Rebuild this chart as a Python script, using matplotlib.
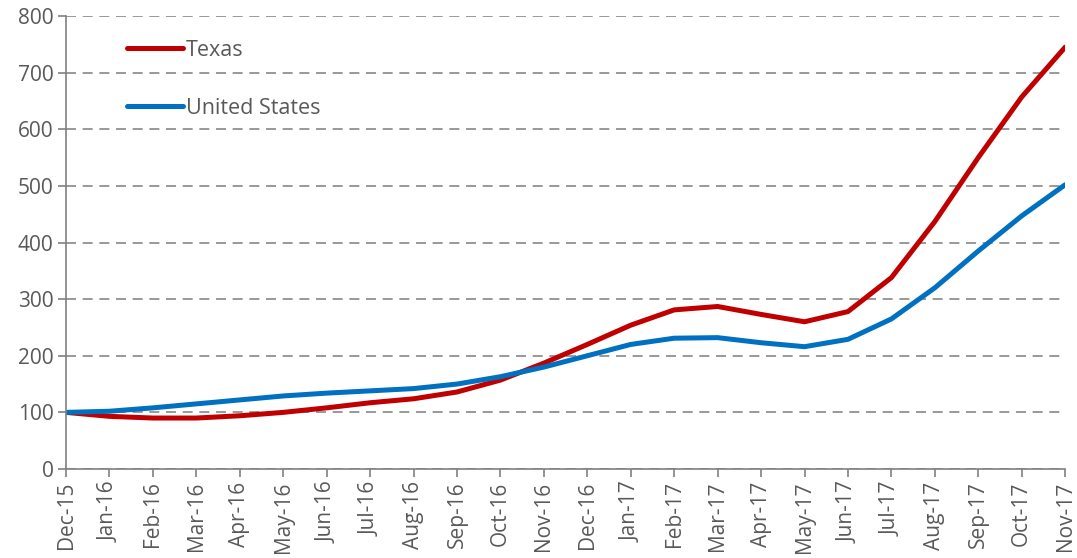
import numpy as np
import matplotlib.pyplot as plt

months = ['Dec-15', 'Jan-16', 'Feb-16', 'Mar-16', 'Apr-16', 'May-16', 'Jun-16',
          'Jul-16', 'Aug-16', 'Sep-16', 'Oct-16', 'Nov-16', 'Dec-16', 'Jan-17',
          'Feb-17', 'Mar-17', 'Apr-17', 'May-17', 'Jun-17', 'Jul-17', 'Aug-17',
          'Sep-17', 'Oct-17', 'Nov-17']
texas = [100, 93, 90, 90, 94, 100, 108, 117, 124, 136, 157, 187, 220, 254,
         281, 287, 273, 260, 278, 338, 437, 550, 657, 745]
united_states = [100, 102, 108, 115, 122, 129, 134, 138, 142, 150, 163, 180,
                 200, 220, 231, 232, 223, 216, 229, 265, 320, 385, 447, 502]

plt.rcParams['font.family'] = ['Open Sans', 'DejaVu Sans']
grey = '#595959'

fig = plt.figure(figsize=(10.77, 5.58), dpi=100)
ax = fig.add_axes([0.0613, 0.1595, 0.9277, 0.8118])

x = np.arange(len(months))
ax.plot(x, texas, color='#c00000', lw=3.6, label='Texas', solid_capstyle='round')
ax.plot(x, united_states, color='#0070c0', lw=3.6, label='United States',
        solid_capstyle='round')

ax.set_xlim(0, len(months) - 1)
ax.set_ylim(0, 800)
ax.set_yticks(range(0, 801, 100))
ax.set_xticks(x)
ax.set_xticklabels(months, rotation=90)
ax.yaxis.grid(True, ls=(0, (6, 4)), color='#888888', lw=1.2)
ax.set_axisbelow(True)

for s in ['top', 'right']:
    ax.spines[s].set_visible(False)
for s in ['left', 'bottom']:
    ax.spines[s].set_color('#808080')
    ax.spines[s].set_linewidth(1.2)
ax.tick_params(axis='both', colors='#808080', labelcolor=grey, labelsize=15,
               length=6, width=1.2)
ax.tick_params(axis='y', pad=3)
ax.tick_params(axis='x', pad=3)

leg = ax.legend(loc='upper left', bbox_to_anchor=(0.042, 0.99), frameon=False,
                fontsize=15.5, handlelength=2.6, handletextpad=0.12,
                labelspacing=1.7)
for t in leg.get_texts():
    t.set_color(grey)

fig.savefig('out.png', dpi=100)
